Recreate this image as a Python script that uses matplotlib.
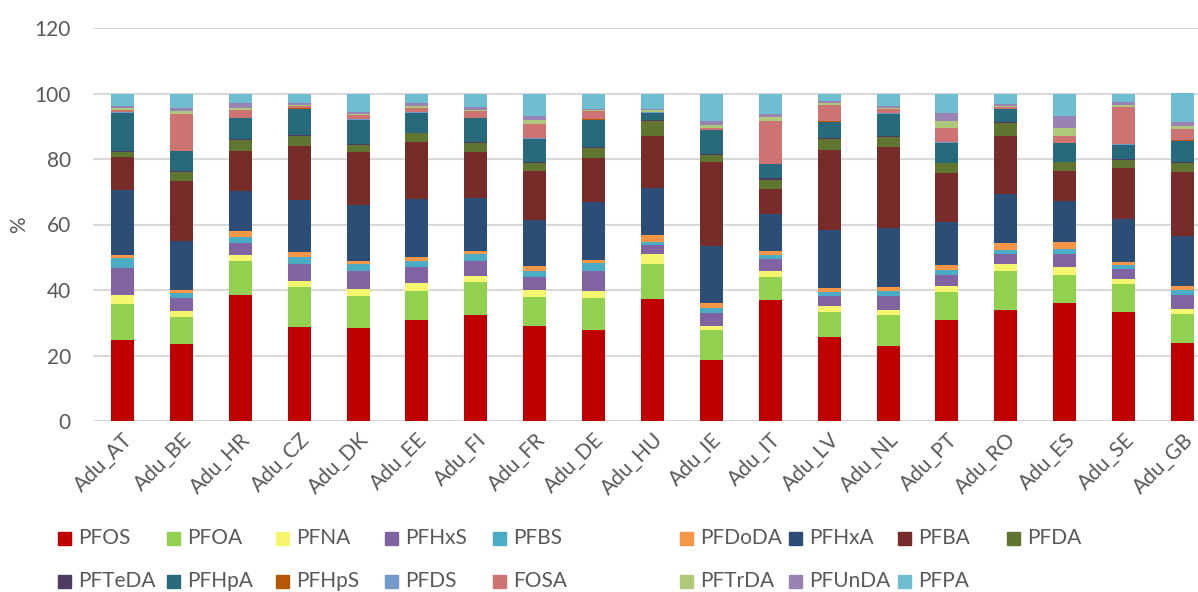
import numpy as np
import matplotlib
matplotlib.use("Agg")
import matplotlib.pyplot as plt
from matplotlib.patches import Rectangle

plt.rcParams['font.family'] = ['Lato', 'DejaVu Sans']

countries = ["Adu_AT", "Adu_BE", "Adu_HR", "Adu_CZ", "Adu_DK", "Adu_EE", "Adu_FI",
             "Adu_FR", "Adu_DE", "Adu_HU", "Adu_IE", "Adu_IT", "Adu_LV", "Adu_NL",
             "Adu_PT", "Adu_RO", "Adu_ES", "Adu_SE", "Adu_GB"]

compounds = ["PFOS", "PFOA", "PFNA", "PFHxS", "PFBS", "PFDoDA", "PFHxA", "PFBA", "PFDA",
             "PFTeDA", "PFHpA", "PFHpS", "PFDS", "FOSA", "PFTrDA", "PFUnDA", "PFPA"]

colors = ["#C00000", "#92D050", "#F5F56E", "#8064A2", "#4BACC6", "#F79646", "#2C4D75",
          "#772C2A", "#5F7530", "#4D3B62", "#276A7C", "#B65708", "#729ACA", "#CD7371",
          "#AFC97A", "#9983B5", "#6FBDD1"]

# % share per compound, one list per compound, in country order
PFOS   = [24.8, 23.6, 38.5, 28.7, 28.5, 30.7, 32.3, 29.0, 27.7, 37.1, 18.5, 36.8, 25.5, 23.0, 30.7, 33.9, 36.1, 33.3, 23.8]
PFOA   = [11.0,  8.2, 10.3, 12.3,  9.6,  9.0, 10.1,  9.0,  9.8, 10.9,  9.3,  7.2,  7.9,  9.4,  8.7, 11.9,  8.6,  8.6,  8.9]
PFNA   = [ 2.6,  1.7,  1.8,  1.8,  2.1,  2.3,  1.9,  2.0,  2.1,  2.9,  1.2,  1.7,  1.7,  1.6,  1.7,  2.2,  2.4,  1.5,  1.5]
PFHxS  = [ 8.3,  4.1,  3.7,  5.2,  5.6,  5.0,  4.6,  4.0,  6.3,  2.9,  4.0,  3.8,  3.0,  4.1,  3.5,  3.0,  4.0,  3.0,  4.3]
PFBS   = [ 3.1,  1.5,  1.8,  2.2,  2.2,  1.9,  2.0,  1.7,  2.4,  1.0,  1.6,  1.2,  1.4,  1.7,  1.6,  1.3,  1.5,  1.3,  1.6]
PFDoDA = [ 0.8,  1.0,  1.8,  1.4,  1.0,  1.1,  0.9,  1.5,  1.0,  1.9,  1.3,  1.2,  1.2,  1.1,  1.3,  1.9,  2.2,  1.0,  1.2]
PFHxA  = [20.0, 15.0, 12.4, 15.9, 17.1, 17.9, 16.4, 14.3, 17.7, 14.5, 17.4, 11.2, 17.6, 18.1, 13.4, 15.2, 12.5, 13.1, 15.3]
PFBA   = [10.0, 18.2, 12.1, 16.4, 16.0, 17.3, 14.0, 14.7, 13.3, 15.8, 25.8,  7.8, 24.6, 24.7, 14.9, 17.7,  8.9, 15.5, 19.5]
PFDA   = [ 1.5,  2.8,  3.5,  3.1,  2.2,  2.6,  2.7,  2.6,  3.1,  4.6,  2.2,  2.8,  3.3,  3.0,  2.9,  3.9,  2.8,  2.4,  2.7]
PFTeDA = [ 0.3,  0.3,  0.2,  0.2,  0.2,  0.2,  0.2,  0.3,  0.3,  0.2,  0.3,  0.4,  0.2,  0.2,  0.2,  0.2,  0.2,  0.2,  0.2]
PFHpA  = [11.5,  5.9,  6.3,  8.2,  7.4,  5.9,  7.3,  6.9,  8.2,  2.2,  7.2,  4.3,  5.0,  6.8,  6.0,  4.0,  5.6,  4.4,  6.6]
PFHpS  = [ 0.2,  0.1,  0.1,  0.1,  0.1,  0.2,  0.1,  0.2,  0.2,  0.1,  0.1,  0.1,  0.1,  0.1,  0.1,  0.1,  0.1,  0.1,  0.1]
PFDS   = [ 0.2,  0.1,  0.1,  0.1,  0.1,  0.1,  0.1,  0.1,  0.2,  0.1,  0.1,  0.1,  0.1,  0.1,  0.1,  0.1,  0.1,  0.1,  0.1]
FOSA   = [ 0.8, 11.1,  2.4,  0.6,  1.2,  1.5,  2.0,  4.4,  2.3,  0.3,  0.6, 12.9,  4.8,  1.4,  4.5,  0.5,  2.0, 11.3,  3.4]
PFTrDA = [ 0.4,  1.1,  0.7,  0.3,  0.5,  0.4,  0.5,  1.1,  0.4,  0.4,  0.9,  1.2,  0.6,  0.4,  1.9,  0.4,  2.5,  0.6,  1.0]
PFUnDA = [ 0.6,  0.8,  1.3,  0.5,  0.7,  0.9,  0.9,  1.3,  0.4,  0.5,  1.0,  1.1,  0.7,  0.5,  2.5,  0.6,  3.5,  1.1,  1.2]
PFPA   = [ 3.9,  4.5,  3.0,  3.0,  5.5,  3.0,  4.0,  6.9,  4.6,  4.6,  8.5,  6.2,  2.3,  3.8,  6.0,  3.1,  7.0,  2.5,  8.6]

series = [PFOS, PFOA, PFNA, PFHxS, PFBS, PFDoDA, PFHxA, PFBA, PFDA, PFTeDA,
          PFHpA, PFHpS, PFDS, FOSA, PFTrDA, PFUnDA, PFPA]

W, H = 1198, 592
fig = plt.figure(figsize=(W / 100, H / 100), dpi=100)
ax = fig.add_axes([93 / W, 1 - 421 / H, 1119 / W, 393 / H])

x = np.arange(len(countries))
bottom = np.zeros(len(countries))
for name, vals, col in zip(compounds, series, colors):
    ax.bar(x, vals, 0.39, bottom=bottom, color=col, label=name, zorder=3)
    bottom += np.array(vals)

ax.set_xlim(-0.5, len(countries) - 0.5)
ax.set_ylim(0, 120)
ax.set_yticks(range(0, 121, 20))
ax.yaxis.grid(True, color="#D9D9D9", linewidth=1.5, zorder=0)
for s in ax.spines.values():
    s.set_visible(False)
ax.tick_params(length=0, labelsize=15, labelcolor="#595959")
ax.tick_params(axis="y", pad=16)
ax.tick_params(axis="x", pad=6)
ax.set_xticks(x)
ax.set_xticklabels(countries, rotation=45, ha="right", rotation_mode="anchor")
ax.set_ylabel("%", fontsize=15, color="#595959", labelpad=4)

# legend laid out like the Excel one: 9 columns, second row clipped at the bottom
col_x = [58, 167, 276, 385, 493, 680, 789, 898, 1007]
row_y = [538, 581]
for i, (name, col) in enumerate(zip(compounds, colors)):
    cx = col_x[i % 9]
    cy = row_y[i // 9]
    fig.add_artist(Rectangle((cx / W, 1 - (cy + 6.5) / H), 13 / W, 13 / H,
                             transform=fig.transFigure, color=col))
    fig.text((cx + 20) / W, 1 - cy / H, name, fontsize=15, color="#595959",
             va="center", ha="left")

fig.savefig("out.png", dpi=100)
